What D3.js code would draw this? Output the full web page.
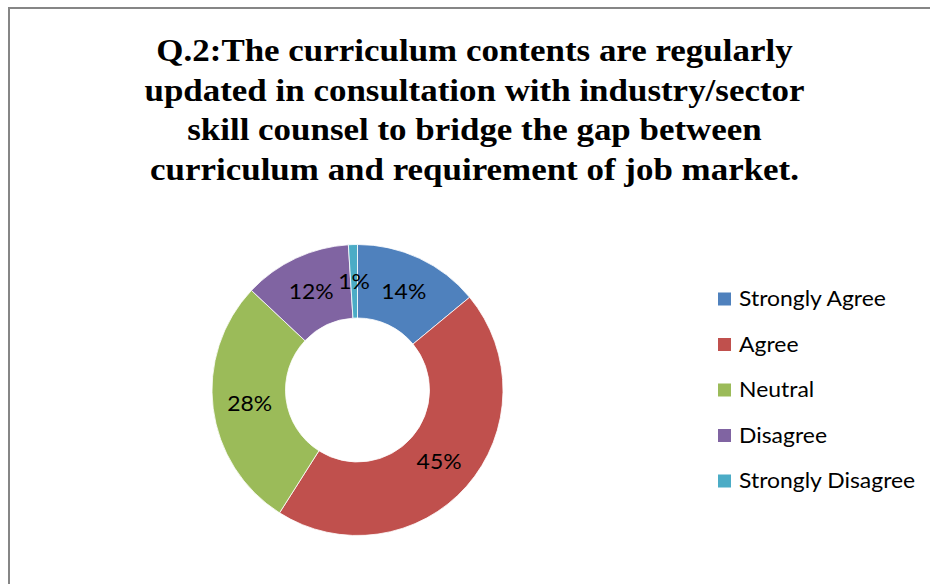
<!DOCTYPE html>
<html>
<head>
<meta charset="utf-8">
<script src="https://cdn.jsdelivr.net/npm/d3@7"></script>
<style>
	html, body { margin: 0; padding: 0; background: #fff; }
	svg { display: block; }
</style>
</head>
<body>
<svg width="930" height="584"></svg>
<script>
const categories = ['Strongly Agree', 'Agree', 'Neutral', 'Disagree', 'Strongly Disagree'];
const values = [14, 45, 28, 12, 1];
const colors = ['#4F81BD', '#C0504D', '#9BBB59', '#8064A2', '#4BACC6'];
const titleLines = [
	'Q.2:The curriculum contents are regularly',
	'updated in consultation with industry/sector',
	'skill counsel to bridge the gap between',
	'curriculum and requirement of job market.'
];

const svg = d3.select('svg'),
	cx = 357.5,
	cy = 390,
	outerR = 145.5,
	innerR = 72,
	stretch = 1.092; // the source picture is a bit wider than tall

// chart frame (right and bottom edges run off the picture)
svg.append('rect')
	.attr('x', 9).attr('y', 8)
	.attr('width', 940).attr('height', 600)
	.attr('fill', 'none')
	.attr('stroke', '#868686')
	.attr('stroke-width', 2);

svg.append('g')
	.attr('class', 'title')
	.selectAll('text')
	.data(titleLines)
	.enter().append('text')
	.attr('transform', (d, i) => `translate(474.5,${61 + i * 39.5}) scale(${stretch},1)`)
	.attr('text-anchor', 'middle')
	.attr('font-family', '"Liberation Serif", "Times New Roman", serif')
	.attr('font-weight', 'bold')
	.attr('font-size', 32)
	.attr('fill', '#000')
	.text(d => d);

const pie = d3.pie().sort(null).value(d => d);
const arc = d3.arc().innerRadius(innerR).outerRadius(outerR);
const labelArc = d3.arc().innerRadius((innerR + outerR) / 2).outerRadius((innerR + outerR) / 2);
const color = d3.scaleOrdinal().domain(categories).range(colors);

const arcs = pie(values);

let donut = svg.append('g')
	.attr('transform', `translate(${cx},${cy})`);

donut.selectAll('path')
	.data(arcs)
	.enter().append('path')
	.attr('d', arc)
	.attr('fill', (d, i) => color(categories[i]))
	.attr('stroke', '#fff')
	.attr('stroke-width', 0.8);

donut.selectAll('text')
	.data(arcs)
	.enter().append('text')
	.attr('transform', d => `translate(${labelArc.centroid(d)}) scale(${stretch},1)`)
	.attr('text-anchor', 'middle')
	.attr('dy', '0.35em')
	.attr('font-family', 'Lato, "Open Sans", sans-serif')
	.attr('font-size', 21)
	.attr('fill', '#000')
	.text(d => d.data + '%');

let legend = svg.append('g')
	.attr('class', 'legend')
	.selectAll('g')
	.data(categories)
	.enter().append('g')
	.attr('transform', (d, i) => `translate(718,${299 + i * 45.5})`);

legend.append('rect')
	.attr('x', 0).attr('y', -6.5)
	.attr('width', 13).attr('height', 13)
	.attr('fill', d => color(d));

legend.append('text')
	.attr('transform', `translate(21,0) scale(${stretch},1)`)
	.attr('dy', '0.35em')
	.attr('font-family', 'Lato, "Open Sans", sans-serif')
	.attr('font-size', 21)
	.attr('fill', '#000')
	.text(d => d);
</script>
</body>
</html>
